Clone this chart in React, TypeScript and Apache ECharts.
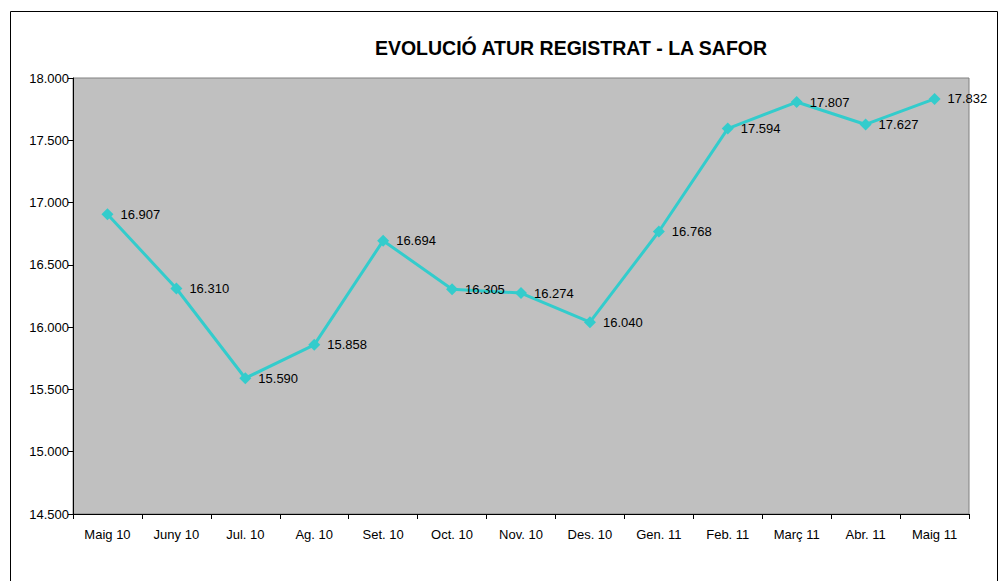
import React, { useEffect, useRef } from "react";
import * as echarts from "echarts";

const categories = ["Maig 10", "Juny 10", "Jul. 10", "Ag. 10", "Set. 10", "Oct. 10", "Nov. 10", "Des. 10", "Gen. 11", "Feb. 11", "Març 11", "Abr. 11", "Maig 11"];
const values = [16907, 16310, 15590, 15858, 16694, 16305, 16274, 16040, 16768, 17594, 17807, 17627, 17832];
const titleText = "EVOLUCIÓ ATUR REGISTRAT - LA SAFOR";

const fmt = (v: number) => {
  const s = Math.round(v).toString();
  return s.replace(/\B(?=(\d{3})+(?!\d))/g, ".");
};

export default function App() {
  const ref = useRef<HTMLDivElement>(null);
  useEffect(() => {
    if (!ref.current) return;
    const chart = echarts.init(ref.current, undefined, { renderer: "svg" });
    const font = "Liberation Sans, Arial, sans-serif";
    chart.setOption({
      animation: false,
      backgroundColor: "#ffffff",
      textStyle: { fontFamily: font },
      title: {
        text: titleText,
        left: 566,
        top: 33,
        textAlign: "center",
        textStyle: { fontFamily: font, fontWeight: "bold", fontSize: 19.5, color: "#000" },
      },
      graphic: [
        {
          type: "rect",
          shape: { x: 10.5, y: 11.5, width: 987, height: 600 },
          style: { fill: "none", stroke: "#000", lineWidth: 1 },
          silent: true,
        },
      ],
      grid: {
        left: 73,
        top: 78,
        right: 30,
        bottom: 67,
        show: true,
        backgroundColor: "#c0c0c0",
        borderColor: "#808080",
        borderWidth: 1,
      },
      xAxis: {
        type: "category",
        data: categories,
        boundaryGap: true,
        axisLine: { show: true, lineStyle: { color: "#000", width: 1 } },
        axisTick: { show: true, length: 5, lineStyle: { color: "#000" } },
        axisLabel: { color: "#000", fontSize: 13, fontFamily: font, margin: 14, interval: 0 },
        splitLine: { show: false },
      },
      yAxis: {
        type: "value",
        min: 14500,
        max: 18000,
        interval: 500,
        axisLine: { show: true, lineStyle: { color: "#000", width: 1 } },
        axisTick: { show: true, length: 5, lineStyle: { color: "#000" } },
        axisLabel: { color: "#000", fontSize: 13, fontFamily: font, margin: 4, formatter: (v: number) => fmt(v) },
        splitLine: { show: false },
      },
      series: [
        {
          type: "line",
          data: values,
          symbol: "diamond",
          symbolSize: 12,
          itemStyle: { color: "#33CCCC" },
          lineStyle: { color: "#33CCCC", width: 3 },
          label: {
            show: true,
            position: "right",
            distance: 7,
            color: "#000",
            fontSize: 13,
            fontFamily: font,
            formatter: (p: any) => fmt(p.value),
          },
        },
      ],
    });
    return () => chart.dispose();
  }, []);
  return <div ref={ref} style={{ position: "absolute", left: 0, top: 0, width: 999, height: 581 }} />;
}
